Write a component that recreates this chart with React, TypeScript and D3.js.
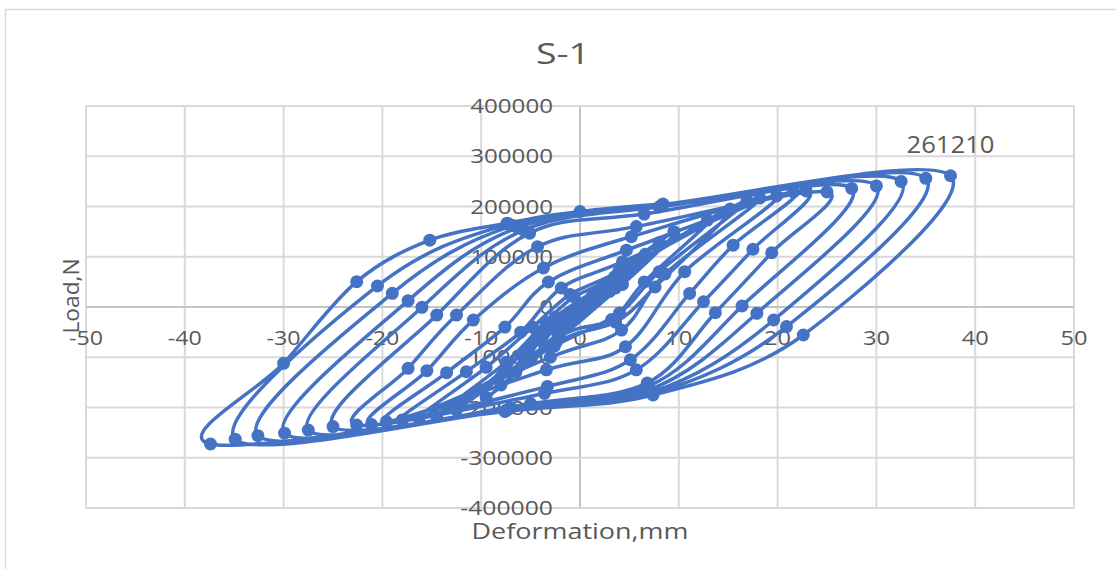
import React from "react";
import * as d3 from "d3";

type P = [number, number];

const xTickValues = [-50, -40, -30, -20, -10, 0, 10, 20, 30, 40, 50];
const yTickValues = [-400000, -300000, -200000, -100000, 0, 100000, 200000, 300000, 400000];
const chartTitle = "S-1";
const xAxisTitle = "Deformation,mm";
const yAxisTitle = "Load,N";
const peakPoint: P = [37.5, 261210];
const peakText = "261210";

// hysteresis loops, in loading order (small -> large)
const start: P[] = [[0, 0]];
const loop20: P[] = [[1.2, 20000], [0.5, 6000], [-1.2, -27000], [-0.5, -8000]];
const loop19: P[] = [[2.3, 38000], [1.0, 11000], [-2.3, -50000], [-1.0, -15000]];
const loop18: P[] = [[3.6, 58000], [1.6, 17000], [-3.6, -75000], [-1.6, -22000]];
const loop17: P[] = [[5.0, 80000], [2.2, 24000], [-5.0, -100000], [-2.2, -30000]];
const loop16: P[] = [[6.6, 105000], [3.0, 31000], [-6.5, -130000], [-2.9, -39000]];
const loop15: P[] = [[8.0, 128000], [3.6, 38000], [-8.0, -155000], [-3.6, -46000]];
const loop14: P[] = [[9.5, 150000], [4.3, 45000], [-9.5, -180000], [-4.3, -54000]];
const loop13: P[] = [[12.9, 173000], [6.5, 50000], [3.2, -25000], [-2.2, -60000], [-12.5, -205000], [-6.0, -95000], [-2.5, -20000], [3.0, 50000]];
const loop12: P[] = [[15.2, 195000], [7.6, 40000], [3.6, -30000], [-2.4, -70000], [-14.5, -218000], [-7.5, -110000], [-3.5, -30000], [-0.6, 20000], [3.5, 60000]];
const loop11: P[] = [[16.9, 213000], [8.0, 70000], [4.0, -12000], [-2.6, -78000], [-16.3, -222000], [-9.5, -120000], [-4.8, -40000], [-1.0, 25000], [3.9, 70000]];
const loop10: P[] = [[18.2, 217000], [8.6, 65700], [4.2, -46000], [-3.0, -100000], [-18.0, -225000], [-11.5, -128700], [-6.0, -50000], [-1.9, 37800], [4.3, 90000]];
const loop9: P[] = [[19.9, 221000], [10.6, 70300], [4.6, -79000], [-3.4, -125000], [-19.6, -228000], [-13.5, -130700], [-7.6, -40000], [-3.2, 49700], [4.7, 113000]];
const loop8: P[] = [[21.6, 229000], [15.5, 123000], [11.1, 27000], [5.1, -105000], [-3.3, -158000], [-21.1, -234000], [-15.5, -126700], [-10.8, -26000], [-3.7, 77600], [5.2, 140000]];
const loop7: P[] = [[22.9, 231000], [17.5, 114800], [12.5, 10500], [5.7, -125000], [-3.6, -172000], [-22.6, -235000], [-17.4, -122000], [-12.5, -16000], [-4.3, 120000], [5.7, 160000]];
const loop6: P[] = [[25.0, 229000], [19.4, 108000], [13.7, -11300], [6.8, -151000], [-5.0, -192000], [-25.0, -238000], [-14.5, -16000], [-5.1, 147000], [6.5, 185000]];
const loop5: P[] = [[27.5, 236000], [16.4, 2000], [6.9, -158000], [-7.0, -201000], [-27.5, -245000], [-16.0, -600], [-5.7, 153000], [8.0, 199000]];
const loop4: P[] = [[30.0, 241000], [17.9, -12500], [7.0, -165000], [-7.3, -204000], [-29.9, -251000], [-17.4, 12600], [-6.3, 158000], [8.2, 201000]];
const loop3: P[] = [[32.5, 250000], [19.6, -25900], [7.2, -170000], [-7.5, -206000], [-32.6, -256000], [-19.0, 27200], [-6.8, 162000], [8.3, 203000]];
const loop2: P[] = [[35.0, 256000], [20.9, -39000], [7.3, -173000], [-7.6, -207000], [-34.9, -263000], [-20.5, 41800], [-7.2, 165000], [8.4, 204000]];
const loop1: P[] = [[37.5, 261210], [22.6, -55700], [7.4, -175000], [-7.6, -208000], [-37.4, -272600], [-30.0, -112000], [-22.6, 50400], [-15.2, 133000], [-7.4, 166600], [0, 190000], [8.4, 205000]];

const loopsInOrder: P[][] = [start, loop20, loop19, loop18, loop17, loop16, loop15, loop14, loop13, loop12, loop11, loop10, loop9, loop8, loop7, loop6, loop5, loop4, loop3, loop2, loop1];

const BLUE = "#4472C4";
const TXT = "#595959";
const FONT = "'Open Sans', 'DejaVu Sans', sans-serif";

function labelWidth(s: string, digit: number, minus: number) {
  return Array.from(s).reduce((a, c) => a + (c === "-" ? minus : digit), 0);
}

export default function App() {
  const x = d3.scaleLinear().domain([-50, 50]).range([86, 1074]);
  const y = d3.scaleLinear().domain([-400000, 400000]).range([508, 106]);
  const pts: P[] = loopsInOrder.flat();
  const path = d3
    .line<P>()
    .x((d) => x(d[0]))
    .y((d) => y(d[1]))
    .curve(d3.curveCardinal.tension(0))(pts) || "";

  return (
    <svg width={1116} height={569} style={{ position: "absolute", left: 0, top: 0, background: "#fff" }}>
      <rect x={5.5} y={9.5} width={1130} height={600} fill="#fff" stroke="#d9d9d9" strokeWidth={1.5} />
      <text x={563} y={64} fontFamily={FONT} fontSize={29} fill={TXT} textAnchor="middle" textLength={54} lengthAdjust="spacingAndGlyphs">{chartTitle}</text>
      {xTickValues.map((v) => (
        <line key={"gx" + v} x1={x(v)} x2={x(v)} y1={y(400000)} y2={y(-400000)} stroke={v === 0 ? "#c4c4c4" : "#d9d9d9"} strokeWidth={2} />
      ))}
      {yTickValues.map((v) => (
        <line key={"gy" + v} x1={x(-50)} x2={x(50)} y1={y(v)} y2={y(v)} stroke={v === 0 ? "#c4c4c4" : "#d9d9d9"} strokeWidth={2} />
      ))}
      {yTickValues.map((v) => {
        const s = String(v);
        return (
          <text key={"ly" + v} x={553} y={y(v) + 7} fontFamily={FONT} fontSize={20} fill={TXT} textAnchor="end" textLength={labelWidth(s, 13.8, 10)} lengthAdjust="spacingAndGlyphs">{s}</text>
        );
      })}
      {xTickValues.map((v) => {
        const s = String(v);
        return (
          <text key={"lx" + v} x={x(v)} y={345} fontFamily={FONT} fontSize={20} fill={TXT} textAnchor="middle" textLength={labelWidth(s, 13.5, 7)} lengthAdjust="spacingAndGlyphs">{s}</text>
        );
      })}
      <text x={580} y={539} fontFamily={FONT} fontSize={21} fill={TXT} textAnchor="middle" textLength={217} lengthAdjust="spacingAndGlyphs">{xAxisTitle}</text>
      <text transform="translate(79,296) rotate(-90)" fontFamily={FONT} fontSize={21} fill={TXT} textAnchor="middle" textLength={75} lengthAdjust="spacingAndGlyphs">{yAxisTitle}</text>
      <path d={path} fill="none" stroke={BLUE} strokeWidth={3.5} strokeLinejoin="round" />
      {pts.slice(1).map((p, i) => (
        <circle key={"m" + i} cx={x(p[0])} cy={y(p[1])} r={6.5} fill={BLUE} />
      ))}
      <text x={x(peakPoint[0])} y={153} fontFamily={FONT} fontSize={23} fill={TXT} textAnchor="middle" textLength={88} lengthAdjust="spacingAndGlyphs">{peakText}</text>
    </svg>
  );
}
